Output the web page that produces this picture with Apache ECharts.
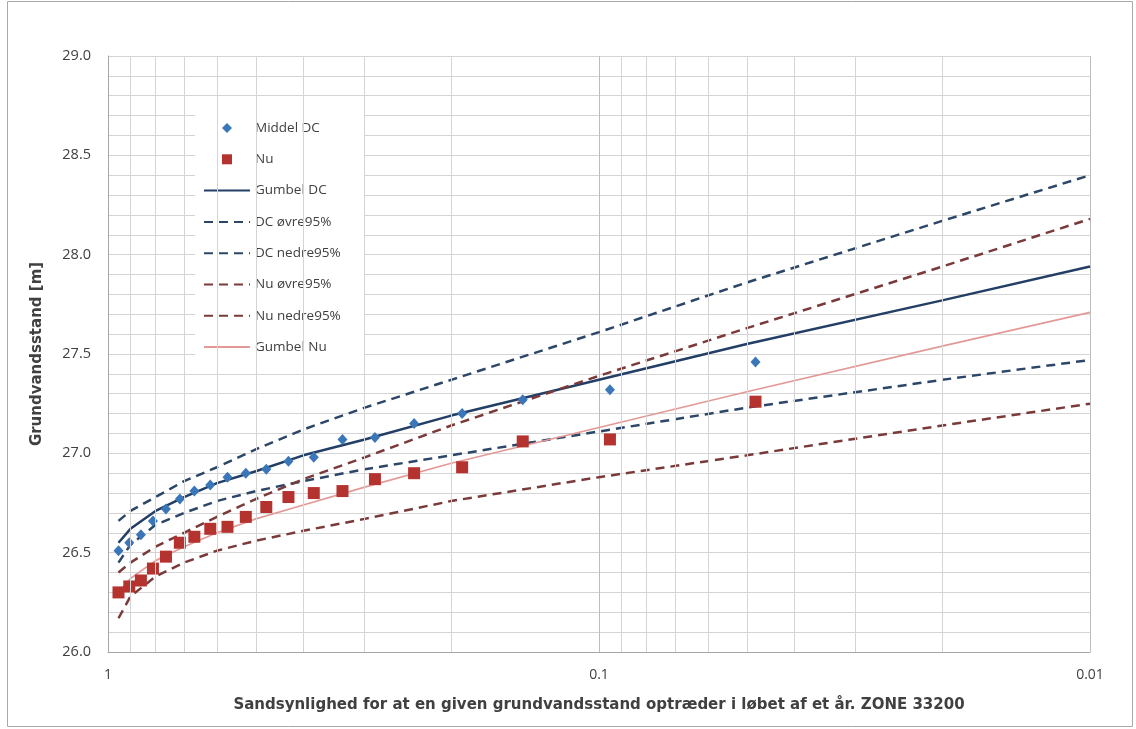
<!DOCTYPE html>
<html>
<head>
<meta charset="utf-8">
<script src="https://cdn.jsdelivr.net/npm/echarts@6/dist/echarts.min.js"></script>
<style>
html,body{margin:0;padding:0;background:#fff;}
#chart{width:1136px;height:729px;}
</style>
</head>
<body>
<div id="chart"></div>
<script>
// Plotting positions (exceedance probability) of the measured values
const probMeasured = [0.952,0.905,0.857,0.810,0.762,0.714,0.667,0.619,0.571,0.524,0.476,0.429,0.381,0.333,0.286,0.238,0.190,0.143,0.095,0.048];
const middelDC = [26.51,26.55,26.59,26.66,26.72,26.77,26.81,26.84,26.88,26.90,26.92,26.96,26.98,27.07,27.08,27.15,27.20,27.27,27.32,27.46];
const nuValues = [26.30,26.33,26.36,26.42,26.48,26.55,26.58,26.62,26.63,26.68,26.73,26.78,26.80,26.81,26.87,26.90,26.93,27.06,27.07,27.26];

// Fitted curves read at these probabilities
const probCurve = [0.952,0.9,0.8,0.7,0.6,0.5,0.4,0.3,0.2,0.1,0.05,0.02,0.01];
const gumbelDC  = [26.55,26.62,26.71,26.78,26.85,26.91,26.99,27.07,27.19,27.37,27.55,27.77,27.94];
const dcOvre    = [26.66,26.71,26.78,26.86,26.93,27.02,27.12,27.23,27.37,27.61,27.86,28.17,28.40];
const dcNedre   = [26.45,26.54,26.64,26.70,26.76,26.81,26.86,26.92,26.99,27.11,27.23,27.37,27.47];
const nuOvre    = [26.40,26.45,26.53,26.60,26.68,26.77,26.87,26.98,27.14,27.39,27.63,27.94,28.18];
const nuNedre   = [26.17,26.28,26.38,26.45,26.51,26.56,26.61,26.67,26.76,26.88,26.99,27.14,27.25];
const gumbelNu  = [26.30,26.37,26.46,26.53,26.60,26.67,26.74,26.83,26.95,27.13,27.31,27.54,27.71];

// Axis ticks / minor vertical gridlines
const yTicks = [26.0,26.5,27.0,27.5,28.0,28.5,29.0];
const xMinorGrid = [0.9,0.8,0.7,0.6,0.5,0.4,0.3,0.2,0.09,0.08,0.07,0.06,0.05,0.04,0.03,0.02];

const names = ['Middel DC','Nu','Gumbel DC','DC øvre95%','DC nedre95%','Nu øvre95%','Nu nedre95%','Gumbel Nu'];

function pairs(xs, ys){ return xs.map((x,i)=>[x, ys[i]]); }

const FONT = 'Open Sans';
const TITLEFONT = 'DejaVu Sans';
const chart = echarts.init(document.getElementById('chart'), null, {renderer:'canvas'});

const dashDC = '#2C4668';
const dashNu = '#7B3A3A';

function lineSeries(name, ys, color, width, dashed){
  return {
    name, type:'line', data: pairs(probCurve, ys),
    symbol:'none', smooth:false,
    lineStyle:{color, width, type: dashed ? [9,6] : 'solid', cap:'butt'},
    itemStyle:{color},
    z:3
  };
}

const legendData = names.map((n,i)=>{
  if (i === 0) return {name:n, icon:'path://M5,0 L10,5 L5,10 L0,5 Z'};
  if (i === 1) return {name:n, icon:'path://M0,0 L10,0 L10,10 L0,10 Z'};
  return {name:n, itemStyle:{opacity:0}};
});

chart.setOption({
  animation:false,
  backgroundColor:'#fff',
  textStyle:{fontFamily:FONT},
  graphic:[{
    type:'rect', shape:{x:7.5,y:1.5,width:1125,height:725},
    style:{fill:'none', stroke:'#a9a9a9', lineWidth:1}, silent:true, z:-10
  }],
  grid:{left:108, top:56, right:46, bottom:77, containLabel:false},
  legend:{
    data:legendData,
    orient:'vertical',
    left:195, top:111,
    padding:[10,24,10,8],
    backgroundColor:'#ffffff',
    itemWidth:46, itemHeight:10, itemGap:17.3,
    symbolKeepAspect:true,
    textStyle:{fontFamily:FONT, fontSize:13.5, color:'#404040'},
    inactiveColor:'#ccc'
  },
  xAxis:{
    type:'log', logBase:10, min:0.01, max:1, inverse:true,
    axisLine:{show:true, lineStyle:{color:'#a6a6a6'}},
    axisTick:{show:false},
    axisLabel:{fontFamily:FONT, fontSize:14, color:'#404040', margin:16,
      formatter:v=>String(v)},
    splitLine:{show:true, lineStyle:{color:'#bdbdbd', width:1}},
    minorTick:{show:false}, minorSplitLine:{show:false},
    name:'Sandsynlighed for at en given grundvandsstand optræder i løbet af et år. ZONE 33200',
    nameLocation:'middle', nameGap:46,
    nameTextStyle:{fontFamily:TITLEFONT, fontSize:15, fontWeight:'bold', color:'#404040'}
  },
  yAxis:{
    type:'value', min:yTicks[0], max:yTicks[yTicks.length-1], interval:0.5,
    position:'left',
    axisLine:{show:true, lineStyle:{color:'#a6a6a6'}},
    axisTick:{show:false},
    axisLabel:{fontFamily:FONT, fontSize:14.5, color:'#404040', margin:17,
      formatter:v=>v.toFixed(1)},
    splitLine:{show:true, lineStyle:{color:'#d4d4d4', width:1}},
    minorTick:{show:false, splitNumber:5},
    minorSplitLine:{show:true, lineStyle:{color:'#d4d4d4', width:1}},
    name:'Grundvandsstand [m]', nameLocation:'middle', nameGap:63,
    nameTextStyle:{fontFamily:TITLEFONT, fontSize:15, fontWeight:'bold', color:'#404040'}
  },
  series:[
    {
      name:'_grid', type:'line', data:[], z:0, silent:true,
      markLine:{
        silent:true, symbol:'none', label:{show:false},
        lineStyle:{color:'#d4d4d4', type:'solid', width:1},
        data: xMinorGrid.map(v=>({xAxis:v}))
      }
    },
    {
      name:'Middel DC', type:'scatter', data:pairs(probMeasured, middelDC),
      symbol:'diamond', symbolSize:[10,11],
      itemStyle:{color:'#3A76B8', opacity:1}, z:4
    },
    {
      name:'Nu', type:'scatter', data:pairs(probMeasured, nuValues),
      symbol:'rect', symbolSize:12,
      itemStyle:{color:'#B5332F', opacity:1}, z:4
    },
    lineSeries('Gumbel DC', gumbelDC, '#233F66', 2.5, false),
    lineSeries('DC øvre95%', dcOvre, dashDC, 2.5, true),
    lineSeries('DC nedre95%', dcNedre, dashDC, 2.5, true),
    lineSeries('Nu øvre95%', nuOvre, dashNu, 2.5, true),
    lineSeries('Nu nedre95%', nuNedre, dashNu, 2.5, true),
    lineSeries('Gumbel Nu', gumbelNu, '#E39A97', 1.75, false)
  ]
});
</script>
</body>
</html>
